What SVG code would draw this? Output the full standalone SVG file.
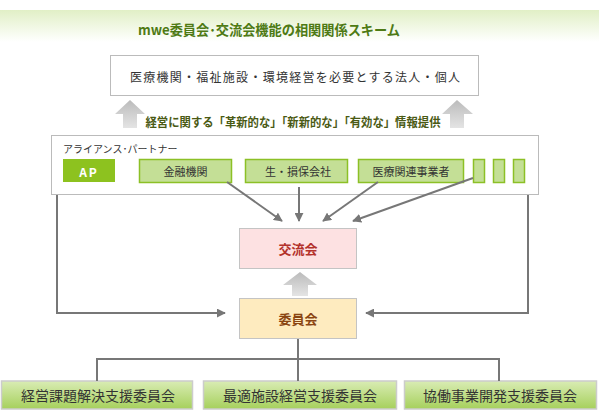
<svg xmlns="http://www.w3.org/2000/svg" width="599" height="410" viewBox="0 0 599 410">
<defs>
<linearGradient id="hdr" x1="0" y1="0" x2="0" y2="1">
<stop offset="0" stop-color="#e1efc6"/>
<stop offset="1" stop-color="#ffffff"/>
</linearGradient>
<linearGradient id="btm" x1="0" y1="0" x2="0" y2="1">
<stop offset="0" stop-color="#d9ecb4"/>
<stop offset="1" stop-color="#a6d05c"/>
</linearGradient>
<linearGradient id="bigarrow" x1="0" y1="0" x2="0" y2="1">
<stop offset="0" stop-color="#bbbbbb"/>
<stop offset="1" stop-color="#e4e4e4"/>
</linearGradient>
<marker id="ah" viewBox="0 0 10 10" refX="9" refY="5" markerWidth="4.5" markerHeight="4.5" orient="auto" markerUnits="strokeWidth">
<path d="M0,0 L10,5 L0,10 z" fill="#777"/>
</marker>
</defs>
<style>
text{font-family:"Noto Sans CJK JP","Noto Sans",sans-serif;text-anchor:middle;dominant-baseline:central}
.ln{fill:none;stroke:#777;stroke-width:2}
.ar{fill:none;stroke:#777;stroke-width:2;marker-end:url(#ah)}
.lg{fill:#c4df96;stroke:#8cc026;stroke-width:1.5}
.bt{fill:url(#btm);stroke:#cccccc;stroke-width:1.5}
.t11{font-size:11px;fill:#333}
.t12{font-size:12px;fill:#333}
.t14{font-size:14px;fill:#333}
.big{fill:url(#bigarrow)}
</style>
<rect x="0" y="10" width="599" height="32" fill="url(#hdr)"/>
<text x="269" y="29" font-size="14" font-weight="bold" fill="#4e7a14" textLength="262" lengthAdjust="spacingAndGlyphs">mwe委員会･交流会機能の相関関係スキーム</text>

<g id="target">
<rect x="110.5" y="55.5" width="368" height="40" fill="#fff" stroke="#bbb" stroke-width="1"/>
<text class="t12" x="295" y="76" textLength="330">医療機関・福祉施設・環境経営を必要とする法人・個人</text>
</g>

<g id="info">
<path class="big" d="M130,100 L145,114 L137,114 L137,128 L123,128 L123,114 L115,114 z"/>
<path class="big" d="M457,100 L473,114 L464,114 L464,128 L450,128 L450,114 L442,114 z"/>
<text x="293" y="121" font-size="12" font-weight="bold" fill="#4a5a14" textLength="295" lengthAdjust="spacingAndGlyphs">経営に関する「革新的な」「新新的な」「有効な」情報提供</text>
</g>

<g id="alliance">
<rect x="51.5" y="135.5" width="487" height="59" fill="#fff" stroke="#bbb" stroke-width="1"/>
<text x="63" y="148" font-size="10" fill="#333" style="text-anchor:start">アライアンス･パートナー</text>
</g>
<g id="ap">
<rect x="63" y="159" width="52" height="23" fill="#8dc21f"/>
<text x="89" y="171" font-size="12" font-weight="bold" fill="#fff" letter-spacing="2">AP</text>
</g>
<g id="kinyu">
<rect class="lg" x="139.5" y="159.5" width="92" height="23"/>
<text class="t11" x="185.5" y="171">金融機関</text>
</g>
<g id="seison">
<rect class="lg" x="245.5" y="159.5" width="102" height="23"/>
<text class="t11" x="298" y="171">生・損保会社</text>
</g>
<g id="iryo">
<rect class="lg" x="358.5" y="159.5" width="105" height="23"/>
<text class="t11" x="411" y="171">医療関連事業者</text>
</g>
<g id="s1"><rect class="lg" x="473.5" y="159.5" width="11" height="23"/></g>
<g id="s2"><rect class="lg" x="493.5" y="159.5" width="11" height="23"/></g>
<g id="s3"><rect class="lg" x="513.5" y="159.5" width="11" height="23"/></g>

<g id="koryu">
<rect x="239.5" y="228.5" width="117" height="40" fill="#fde1e2" stroke="#c4c4c4" stroke-width="1"/>
<text x="298" y="248" font-size="13" font-weight="bold" fill="#b3322c">交流会</text>
</g>
<g id="up">
<path class="big" d="M300,272 L317,285 L308,285 L308,296 L292,296 L292,285 L283,285 z"/>
</g>
<g id="iinkai">
<rect x="239.5" y="298.5" width="117" height="40" fill="#feebbf" stroke="#c4c4c4" stroke-width="1"/>
<text x="298" y="318" font-size="13" font-weight="bold" fill="#8a4512">委員会</text>
</g>

<g id="c1">
<rect class="bt" x="1.5" y="381" width="191" height="28"/>
<text class="t14" x="98" y="395">経営課題解決支援委員会</text>
</g>
<g id="c2">
<rect class="bt" x="203.5" y="381" width="193" height="28"/>
<text class="t14" x="300" y="395">最適施設経営支援委員会</text>
</g>
<g id="c3">
<rect class="bt" x="404.5" y="381" width="192" height="28"/>
<text class="t14" x="500" y="395">協働事業開発支援委員会</text>
</g>

<g id="connectors">
<line class="ar" x1="227" y1="182" x2="282" y2="221"/>
<line class="ar" x1="299" y1="187" x2="299" y2="221"/>
<line class="ar" x1="378" y1="182" x2="323" y2="221"/>
<line class="ar" x1="473" y1="178" x2="353" y2="221"/>
<polyline class="ar" points="57,195 57,313 225,313"/>
<polyline class="ar" points="528,195 528,313 366,313"/>
<line class="ln" x1="298" y1="339" x2="298" y2="381"/>
<polyline class="ln" points="97,381 97,359 499,359 499,381"/>
</g>
</svg>
